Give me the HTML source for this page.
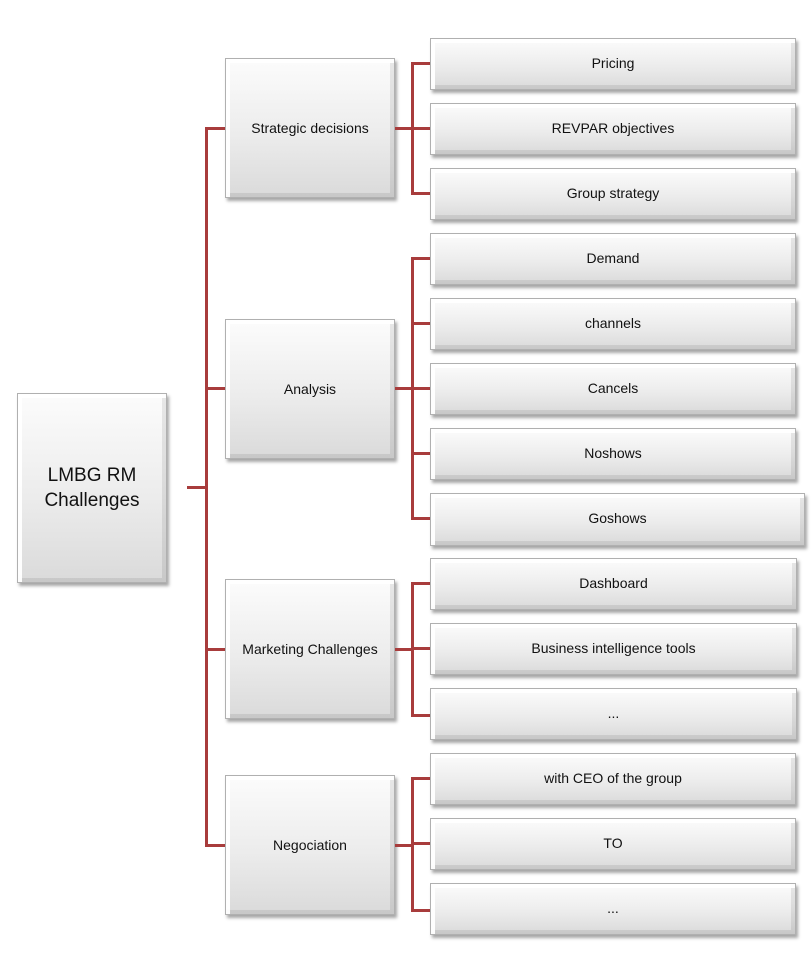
<!DOCTYPE html>
<html><head><style>
body{margin:0;width:811px;height:973px;background:#fff;position:relative;font-family:"Liberation Sans",sans-serif;overflow:hidden}
.b{position:absolute;box-sizing:border-box;border:1px solid #b0b0b0;background:linear-gradient(#fcfcfc,#ececec 55%,#dadada);
box-shadow:inset 6px 6px 0 -2px rgba(255,255,255,.95),inset -6px -6px 0 -2px rgba(0,0,0,.08),2px 3px 3px rgba(0,0,0,.35);
display:flex;align-items:center;justify-content:center;text-align:center;color:#111;font-size:14px}
.l{position:absolute;background:#a83c3c}
</style></head><body>
<div class="b" style="left:17px;top:393px;width:150px;height:190px;font-size:19px;line-height:25px">LMBG RM<br>Challenges</div>
<div class="l" style="left:187px;top:486px;width:20px;height:3px"></div>
<div class="l" style="left:205px;top:127px;width:3px;height:720px"></div>

<div class="l" style="left:205px;top:127px;width:20px;height:3px"></div>
<div class="l" style="left:205px;top:387px;width:20px;height:3px"></div>
<div class="l" style="left:205px;top:648px;width:20px;height:3px"></div>
<div class="l" style="left:205px;top:844px;width:20px;height:3px"></div>

<div class="b" style="left:225px;top:58px;width:170px;height:140px">Strategic decisions</div>
<div class="b" style="left:225px;top:319px;width:170px;height:140px">Analysis</div>
<div class="b" style="left:225px;top:579px;width:170px;height:140px">Marketing Challenges</div>
<div class="b" style="left:225px;top:775px;width:170px;height:140px">Negociation</div>

<div class="l" style="left:395px;top:127px;width:18px;height:3px"></div>
<div class="l" style="left:395px;top:387px;width:18px;height:3px"></div>
<div class="l" style="left:395px;top:648px;width:18px;height:3px"></div>
<div class="l" style="left:395px;top:844px;width:18px;height:3px"></div>

<div class="l" style="left:411px;top:62px;width:3px;height:133px"></div>
<div class="l" style="left:411px;top:257px;width:3px;height:263px"></div>
<div class="l" style="left:411px;top:582px;width:3px;height:135px"></div>
<div class="l" style="left:411px;top:777px;width:3px;height:135px"></div>

<div class="l" style="left:411px;top:62px;width:20px;height:3px"></div>
<div class="l" style="left:411px;top:127px;width:20px;height:3px"></div>
<div class="l" style="left:411px;top:192px;width:20px;height:3px"></div>
<div class="l" style="left:411px;top:257px;width:20px;height:3px"></div>
<div class="l" style="left:411px;top:322px;width:20px;height:3px"></div>
<div class="l" style="left:411px;top:387px;width:20px;height:3px"></div>
<div class="l" style="left:411px;top:452px;width:20px;height:3px"></div>
<div class="l" style="left:411px;top:517px;width:20px;height:3px"></div>
<div class="l" style="left:411px;top:582px;width:20px;height:3px"></div>
<div class="l" style="left:411px;top:647px;width:20px;height:3px"></div>
<div class="l" style="left:411px;top:714px;width:20px;height:3px"></div>
<div class="l" style="left:411px;top:777px;width:20px;height:3px"></div>
<div class="l" style="left:411px;top:842px;width:20px;height:3px"></div>
<div class="l" style="left:411px;top:909px;width:20px;height:3px"></div>

<div class="b" style="left:430px;top:38px;width:366px;height:52px;padding-bottom:3px">Pricing</div>
<div class="b" style="left:430px;top:103px;width:366px;height:52px;padding-bottom:3px">REVPAR objectives</div>
<div class="b" style="left:430px;top:168px;width:366px;height:52px;padding-bottom:3px">Group strategy</div>
<div class="b" style="left:430px;top:233px;width:366px;height:52px;padding-bottom:3px">Demand</div>
<div class="b" style="left:430px;top:298px;width:366px;height:52px;padding-bottom:3px">channels</div>
<div class="b" style="left:430px;top:363px;width:366px;height:52px;padding-bottom:3px">Cancels</div>
<div class="b" style="left:430px;top:428px;width:366px;height:52px;padding-bottom:3px">Noshows</div>
<div class="b" style="left:430px;top:493px;width:375px;height:53px;padding-bottom:3px">Goshows</div>
<div class="b" style="left:430px;top:558px;width:367px;height:52px;padding-bottom:3px">Dashboard</div>
<div class="b" style="left:430px;top:623px;width:367px;height:52px;padding-bottom:3px">Business intelligence tools</div>
<div class="b" style="left:430px;top:688px;width:367px;height:52px;padding-bottom:3px">...</div>
<div class="b" style="left:430px;top:753px;width:366px;height:52px;padding-bottom:3px">with CEO of the group</div>
<div class="b" style="left:430px;top:818px;width:366px;height:52px;padding-bottom:3px">TO</div>
<div class="b" style="left:430px;top:883px;width:366px;height:52px;padding-bottom:3px">...</div>
</body></html>
